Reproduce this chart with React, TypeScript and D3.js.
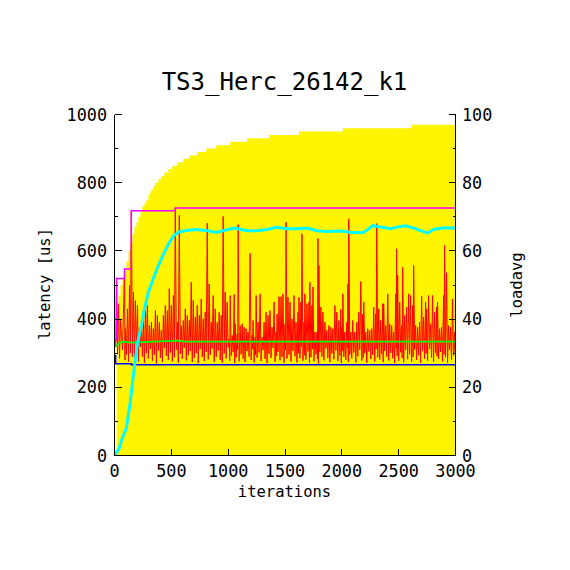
import React from 'react';
import * as d3 from 'd3';

const title = 'TS3_Herc_26142_k1';
const xLabel = 'iterations';
const yLabel = 'latency [us]';
const y2Label = 'loadavg';

const xTicks = [0, 500, 1000, 1500, 2000, 2500, 3000];
const yTicks = [0, 200, 400, 600, 800, 1000];
const yMinorTicks = [100, 300, 500, 700, 900];
const y2Ticks = [0, 20, 40, 60, 80, 100];

// yellow area (right axis units), step after
const loadIter = [18, 35, 53, 70, 88, 105, 123, 140, 158, 175, 193, 210, 228, 245, 263, 281, 298, 316, 325, 342, 360, 386, 412, 439, 474, 509, 553, 605, 658, 728, 807, 895, 1018, 1167, 1360, 1623, 2009, 2614];
const loadValue = [44, 47, 50, 52, 54, 57, 60, 62.5, 65, 67, 68.5, 70, 71.5, 73, 74, 75, 76.5, 77.5, 78, 79, 80, 81, 82, 83, 84, 85, 86, 87, 88, 89, 90, 91, 92, 93, 94, 95, 96, 97];

// cyan loadavg line (right axis units)
const avgLoadIter = [0, 40, 61, 105, 140, 164, 175, 202, 237, 263, 298, 342, 386, 430, 474, 518, 561, 632, 719, 807, 895, 991, 1053, 1123, 1167, 1254, 1342, 1421, 1518, 1605, 1693, 1781, 1868, 1991, 2079, 2184, 2228, 2272, 2342, 2430, 2474, 2561, 2649, 2711, 2754, 2807, 2895, 3000];
const avgLoadValue = [0, 2, 4.4, 8.2, 16, 23, 26, 33, 38, 43, 47.8, 52, 55.7, 59, 62, 64.3, 65.5, 66, 66.3, 66, 65.4, 66.2, 66.7, 66.2, 65.9, 65.9, 66.3, 66.9, 66.5, 66.5, 66.7, 65.9, 65.7, 65.8, 65.5, 65.3, 66.3, 67.4, 67, 66.5, 66.9, 67.4, 66.5, 65.7, 65.2, 66.3, 66.8, 66.7];

// max latency (step)
const maxIter = [0, 8, 18, 88, 148, 535];
const maxValue = [322, 340, 519, 547, 718, 726];

// min latency (step)
const minIter = [0, 10, 148];
const minValue = [293, 269, 266];

// average latency
const meanIter = [0, 18, 50, 80, 150, 300, 500, 560, 620, 1000, 2000, 3000];
const meanValue = [318, 322, 331, 334, 331, 333, 336, 337, 334, 334, 334, 334];

// latency samples: peaks and the low that follows each peak
const peakIter = [5, 18, 35, 53, 88, 96, 114, 132, 148,
  167, 184, 202, 219, 237, 254, 272, 289, 307, 325, 342, 360, 377, 395, 412, 430, 447, 465, 482, 500, 518, 535, 553, 570, 588, 605, 623, 640, 658, 675, 693, 711, 728, 746, 763, 781, 798, 816, 833, 851, 868, 886, 904, 921, 939, 956, 974, 991,
  1009, 1018, 1035, 1053, 1062, 1079, 1088, 1105, 1123, 1140, 1158, 1175, 1193, 1211, 1219, 1237, 1246, 1263, 1281, 1298, 1316, 1333, 1351, 1368, 1386, 1404, 1421, 1430, 1447, 1465, 1482, 1500, 1509, 1526, 1544, 1561, 1579, 1597, 1614, 1623, 1640, 1649, 1667, 1675, 1693, 1711, 1719, 1737, 1746, 1763, 1781, 1790, 1798, 1816, 1833, 1851, 1868, 1886, 1904, 1921, 1939, 1956, 1974, 1991,
  2000, 2009, 2026, 2044, 2053, 2061, 2079, 2096, 2114, 2132, 2149, 2167, 2184, 2193, 2211, 2228, 2246, 2263, 2281, 2298, 2307, 2325, 2342, 2360, 2368, 2386, 2404, 2421, 2439, 2456, 2474, 2482, 2491, 2509, 2526, 2535, 2553, 2570, 2588, 2605, 2623, 2632, 2649, 2667, 2684, 2702, 2719, 2737, 2746, 2763, 2781, 2798, 2816, 2833, 2842, 2860, 2877, 2895, 2904, 2921, 2939, 2956, 2974, 2991];
const peakValue = [335, 519, 445, 396, 547, 372, 430, 499, 718,
  479, 454, 440, 372, 381, 396, 425, 440, 381, 391, 372, 425, 411, 391, 367, 411, 440, 425, 489, 440, 469, 726, 391, 704, 381, 396, 430, 411, 396, 508, 455, 406, 440, 411, 459, 401, 420, 681, 503, 391, 469, 430, 391, 420, 411, 701, 479, 450,
  342, 469, 352, 472, 386, 357, 677, 381, 386, 376, 372, 362, 593, 352, 396, 347, 469, 391, 474, 347, 391, 420, 411, 425, 376, 450, 362, 415, 466, 466, 474, 386, 684, 464, 450, 401, 469, 391, 420, 464, 450, 650, 391, 474, 445, 450, 508, 440, 494, 362, 362, 636, 557, 435, 420, 391, 367, 381, 376, 372, 440, 420, 396, 428,
  376, 474, 362, 391, 503, 694, 362, 396, 362, 391, 420, 510, 415, 450, 362, 372, 367, 372, 435, 415, 680, 430, 396, 445, 445, 381, 474, 386, 381, 362, 474, 606, 528, 450, 381, 552, 411, 435, 474, 469, 440, 557, 381, 376, 391, 467, 406, 450, 430, 469, 386, 469, 420, 435, 450, 372, 376, 469, 616, 536, 381, 376, 459, 362];
const lowValue = [330, 300, 285, 310, 280, 295, 275, 300, 290,
  282, 305, 276, 318, 290, 272, 300, 284, 312, 278,
  296, 270, 308, 286, 274, 315, 292, 280, 302, 276,
  288, 310, 272, 298, 283, 316, 279, 294, 306, 274,
  287, 300, 271, 312, 289, 277, 304, 282, 296, 314,
  275, 290, 308, 280, 272, 299, 285, 317, 278, 293,
  303, 271, 288, 311, 276, 297, 284, 274, 306, 290,
  280, 313, 273, 295, 287, 302, 277, 309, 283, 271,
  298, 286, 315, 275, 292, 304, 279, 289, 272, 310,
  284, 296, 276, 307, 291, 273, 300, 285, 318, 278,
  294, 281, 305, 272, 288, 312, 276, 297, 283, 270,
  303, 290, 279, 314, 286, 274, 299, 282, 308, 277,
  293, 271, 306, 289, 280, 316, 275, 296, 285, 302,
  273, 291, 310, 278, 287, 300, 272, 305, 283, 295,
  276, 312, 288, 281, 298, 274, 307, 290, 279, 301,
  285, 271, 314, 292, 277, 303, 286, 273, 309, 282,
  297, 275, 289, 311, 280, 294, 272, 306, 284, 299,
  278, 313, 287, 274, 301, 291,
  283, 304, 276, 296, 288, 271, 310, 280, 293, 302];

const W = 570;
const H = 570;
const FONT = '"DejaVu Sans Mono", monospace';

export default function App() {
  const x = d3.scaleLinear().domain([0, 3000]).range([114.5, 455.5]);
  const y = d3.scaleLinear().domain([0, 1000]).range([455.5, 114.5]);
  const y2 = d3.scaleLinear().domain([0, 100]).range([455.5, 114.5]);

  const loadPts: [number, number][] = loadIter.map((t, i) => [t, loadValue[i]]);
  loadPts.push([3000, loadValue[loadValue.length - 1]]);
  const area = d3.area<[number, number]>()
    .x(d => x(d[0])).y0(y2(0)).y1(d => y2(d[1])).curve(d3.curveStepAfter);

  const redPts: [number, number][] = [];
  peakIter.forEach((t, i) => {
    redPts.push([t, peakValue[i]]);
    const next = i + 1 < peakIter.length ? peakIter[i + 1] : 3000;
    redPts.push([(t + next) / 2, lowValue[i] ?? 290]);
  });
  const line = d3.line<[number, number]>().x(d => x(d[0])).y(d => y(d[1]));
  const stepLine = d3.line<[number, number]>().x(d => x(d[0])).y(d => y(d[1])).curve(d3.curveStepAfter);
  const line2 = d3.line<[number, number]>().x(d => x(d[0])).y(d => y2(d[1]));

  const maxPts: [number, number][] = maxIter.map((t, i) => [t, maxValue[i]]);
  maxPts.push([3000, maxValue[maxValue.length - 1]]);
  const minPts: [number, number][] = minIter.map((t, i) => [t, minValue[i]]);
  minPts.push([3000, minValue[minValue.length - 1]]);
  const meanPts: [number, number][] = meanIter.map((t, i) => [t, meanValue[i]]);
  const cyanPts: [number, number][] = avgLoadIter.map((t, i) => [t, avgLoadValue[i]]);

  const x0 = x(0), x1 = x(3000), yb = y(0), yt = y(1000);

  return (
    <svg width={W} height={H} style={{ position: 'absolute', left: 0, top: 0, background: '#fff' }} fontFamily={FONT}>
      <rect x={0} y={0} width={W} height={H} fill="#fff" />
      <path d={area(loadPts) ?? ''} fill="#fff500" />
      <path d={line(redPts) ?? ''} fill="none" stroke="#ff0000" strokeWidth={1} />
      <path d={stepLine(minPts) ?? ''} fill="none" stroke="#0000ff" strokeWidth={1.5} />
      <path d={line(meanPts) ?? ''} fill="none" stroke="#00ff00" strokeWidth={1.8} />
      <path d={stepLine(maxPts) ?? ''} fill="none" stroke="#ff00ff" strokeWidth={1.5} />
      <path d={line2(cyanPts) ?? ''} fill="none" stroke="#00ffff" strokeWidth={3} />

      {/* axes */}
      <g stroke="#000" strokeWidth={1} shapeRendering="crispEdges">
        <line x1={x0} y1={yt} x2={x0} y2={yb} />
        <line x1={x1} y1={yt} x2={x1} y2={yb} />
        <line x1={x0} y1={yb} x2={x1} y2={yb} />
        {yTicks.map(v => <line key={'l' + v} x1={x0} x2={x0 + 7} y1={y(v)} y2={y(v)} />)}
        {yMinorTicks.map(v => <line key={'lm' + v} x1={x0} x2={x0 + 3} y1={y(v)} y2={y(v)} />)}
        {y2Ticks.map(v => <line key={'r' + v} x1={x1} x2={x1 - 7} y1={y2(v)} y2={y2(v)} />)}
        {y2Ticks.slice(0, -1).map(v => <line key={'rm' + v} x1={x1} x2={x1 - 3} y1={y2(v + 10)} y2={y2(v + 10)} />)}
        {xTicks.map(v => <line key={'b' + v} x1={x(v)} x2={x(v)} y1={yb} y2={yb - 7} />)}
      </g>
      <g fontSize={16.8} fill="#000">
        {yTicks.map(v => <text key={'lt' + v} x={107} y={y(v) + 6} textAnchor="end">{v}</text>)}
        {y2Ticks.map(v => <text key={'rt' + v} x={462} y={y2(v) + 6} textAnchor="start">{v}</text>)}
        {xTicks.map(v => <text key={'bt' + v} x={x(v)} y={477} textAnchor="middle">{v}</text>)}
      </g>
      <text x={284.5} y={90} fontSize={24} textAnchor="middle" fill="#000">{title}</text>
      <text x={284.5} y={497} fontSize={15.5} textAnchor="middle" fill="#000">{xLabel}</text>
      <text transform="translate(50,284) rotate(-90)" fontSize={15.5} textAnchor="middle" fill="#000">{yLabel}</text>
      <text transform="translate(522,285) rotate(-90)" fontSize={15.5} textAnchor="middle" fill="#000">{y2Label}</text>
    </svg>
  );
}
